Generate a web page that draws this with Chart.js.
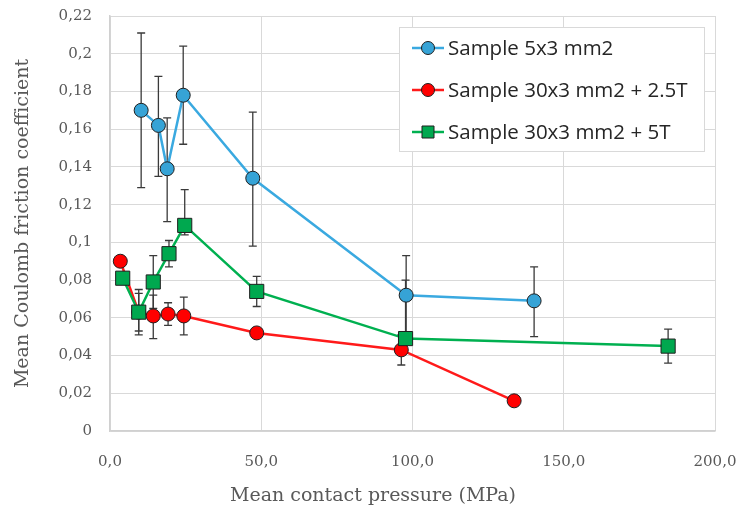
<!DOCTYPE html>
<html lang="en">
  <head>
    <meta charset="UTF-8" />
    <title>Mean Coulomb friction coefficient</title>
    <script src="https://cdn.jsdelivr.net/npm/chart.js"></script>
    <style>
      html, body { margin: 0; padding: 0; background: #fff; }
      #wrap { width: 740px; height: 509px; position: relative; }
    </style>
  </head>
  <body>
    <div id="wrap"><canvas id="chart"></canvas></div>
    <script>
      // series data
      const seriesLabels = ["Sample 5x3 mm2", "Sample 30x3 mm2 + 2.5T", "Sample 30x3 mm2 + 5T"];

      const blueX = [10.3, 16.0, 18.9, 24.2, 47.2, 97.9, 140.2];
      const blueY = [0.170, 0.162, 0.139, 0.178, 0.134, 0.072, 0.069];
      const blueErrUp = [0.041, 0.026, 0.027, 0.026, 0.035, 0.021, 0.018];
      const blueErrDown = [0.041, 0.027, 0.028, 0.026, 0.036, 0.021, 0.019];

      const redX = [3.4, 9.5, 14.3, 19.2, 24.4, 48.5, 96.3, 133.6];
      const redY = [0.090, 0.063, 0.061, 0.062, 0.061, 0.052, 0.043, 0.016];
      const redErrUp = [0, 0.010, 0.011, 0.006, 0.010, 0, 0.008, 0];
      const redErrDown = [0, 0.010, 0.012, 0.006, 0.010, 0, 0.008, 0];

      const greenX = [4.2, 9.5, 14.3, 19.5, 24.7, 48.5, 97.7, 184.5];
      const greenY = [0.081, 0.063, 0.079, 0.094, 0.109, 0.074, 0.049, 0.045];
      const greenErrUp = [0, 0.012, 0.014, 0.007, 0.019, 0.008, 0.031, 0.009];
      const greenErrDown = [0, 0.012, 0.014, 0.007, 0.005, 0.008, 0, 0.009];

      const xTicks = [0, 50, 100, 150, 200];
      const yTicks = [0, 0.02, 0.04, 0.06, 0.08, 0.1, 0.12, 0.14, 0.16, 0.18, 0.2, 0.22];
      const xTitle = "Mean contact pressure (MPa)";
      const yTitle = "Mean Coulomb friction coefficient";

      const toPoints = (xs, ys) => xs.map((x, i) => ({ x: x, y: ys[i] }));

      const serif = "'DejaVu Serif', 'Liberation Serif', serif";
      const sans = "'Open Sans', 'Noto Sans', sans-serif";

      // error bars, drawn under the markers
      const errorBars = {
        id: "errorBars",
        beforeDatasetsDraw(chart) {
          const { ctx, scales } = chart;
          ctx.save();
          ctx.strokeStyle = "#3a3a3a";
          ctx.lineWidth = 1.3;
          chart.data.datasets.forEach(ds => {
            ds.data.forEach((p, i) => {
              const up = ds.errUp[i], down = ds.errDown[i];
              if (!up && !down) return;
              const px = scales.x.getPixelForValue(p.x);
              const top = scales.y.getPixelForValue(p.y + up);
              const bot = scales.y.getPixelForValue(p.y - down);
              ctx.beginPath();
              ctx.moveTo(px, top); ctx.lineTo(px, bot);
              if (up) { ctx.moveTo(px - 4, top); ctx.lineTo(px + 4, top); }
              if (down) { ctx.moveTo(px - 4, bot); ctx.lineTo(px + 4, bot); }
              ctx.stroke();
            });
          });
          ctx.restore();
        }
      };

      // legend box inside the plot (top right) and the x axis title
      const boxLegend = {
        id: "boxLegend",
        afterDraw(chart) {
          const { ctx } = chart;
          const bx = 399, by = 27, bw = 305, bh = 124;
          ctx.save();
          ctx.fillStyle = "#fff";
          ctx.fillRect(bx, by, bw, bh);
          ctx.strokeStyle = "#d9d9d9";
          ctx.lineWidth = 1;
          ctx.strokeRect(bx + 0.5, by + 0.5, bw, bh);
          const dsByLabel = seriesLabels.map(l => chart.data.datasets.find(d => d.label === l));
          dsByLabel.forEach((ds, i) => {
            const y = 48 + i * 42;
            ctx.strokeStyle = ds.borderColor;
            ctx.lineWidth = 2.5;
            ctx.beginPath(); ctx.moveTo(412, y); ctx.lineTo(444, y); ctx.stroke();
            ctx.fillStyle = ds.pointBackgroundColor;
            ctx.strokeStyle = "#1f1f1f";
            ctx.lineWidth = 1;
            ctx.beginPath();
            if (ds.pointStyle === "rect") {
              ctx.rect(422, y - 6, 12, 12);
            } else {
              ctx.arc(428, y, 6.5, 0, Math.PI * 2);
            }
            ctx.fill(); ctx.stroke();
            ctx.fillStyle = "#262626";
            ctx.font = "20.5px " + sans;
            ctx.textBaseline = "middle";
            ctx.textAlign = "left";
            ctx.fillText(ds.label, 448, y + 1);
          });

          ctx.fillStyle = "#595959";
          ctx.font = "19px " + serif;
          ctx.textAlign = "center";
          ctx.textBaseline = "middle";
          ctx.fillText(xTitle, 373, 496);
          ctx.restore();
        }
      };

      new Chart(document.getElementById("chart"), {
        type: "scatter",
        data: {
          datasets: [
            {
              label: seriesLabels[0],
              data: toPoints(blueX, blueY),
              errUp: blueErrUp, errDown: blueErrDown,
              showLine: true,
              borderColor: "#3aa9e0",
              borderWidth: 2.5,
              pointBackgroundColor: "#36a3d6",
              pointBorderColor: "#1f1f1f",
              pointBorderWidth: 1,
              pointRadius: 7,
              pointStyle: "circle",
              order: 2
            },
            {
              label: seriesLabels[1],
              data: toPoints(redX, redY),
              errUp: redErrUp, errDown: redErrDown,
              showLine: true,
              borderColor: "#ff1a1a",
              borderWidth: 2.5,
              pointBackgroundColor: "#ff0000",
              pointBorderColor: "#1f1f1f",
              pointBorderWidth: 1,
              pointRadius: 7,
              pointStyle: "circle",
              order: 1
            },
            {
              label: seriesLabels[2],
              data: toPoints(greenX, greenY),
              errUp: greenErrUp, errDown: greenErrDown,
              showLine: true,
              borderColor: "#00b050",
              borderWidth: 2.5,
              pointBackgroundColor: "#00a84f",
              pointBorderColor: "#1f1f1f",
              pointBorderWidth: 1,
              pointRadius: 10,
              pointStyle: "rect",
              order: 0
            }
          ]
        },
        options: {
          responsive: true,
          maintainAspectRatio: false,
          animation: false,
          layout: { padding: { top: 16, right: 25, left: 0, bottom: 0 } },
          plugins: {
            legend: { display: false },
            tooltip: { enabled: false }
          },
          scales: {
            x: {
              type: "linear",
              min: 0, max: 200,
              afterBuildTicks: s => { s.ticks = xTicks.map(v => ({ value: v })); },
              afterFit: s => { s.height = 78; s.paddingLeft = 0; s.paddingRight = 0; },
              grid: { color: "#d9d9d9", lineWidth: 1, drawTicks: false },
              border: { color: "#d0d0d0", width: 1.5 },
              ticks: {
                color: "#595959",
                font: { family: serif, size: 15 },
                padding: 22,
                callback: v => v.toFixed(1).replace(".", ",")
              },
              title: { display: false }
            },
            y: {
              min: 0, max: 0.22,
              afterBuildTicks: s => { s.ticks = yTicks.map(v => ({ value: v })); },
              afterFit: s => { s.width = 110; s.paddingTop = 0; s.paddingBottom = 0; },
              grid: { color: "#d9d9d9", lineWidth: 1, drawTicks: false },
              border: { color: "#d0d0d0", width: 1.5 },
              ticks: {
                color: "#595959",
                font: { family: serif, size: 15 },
                padding: 18,
                callback: v => String(+v.toFixed(2)).replace(".", ",")
              },
              title: {
                display: true,
                text: yTitle,
                color: "#595959",
                font: { family: serif, size: 19 },
                padding: { top: 12, bottom: 4 }
              }
            }
          }
        },
        plugins: [errorBars, boxLegend]
      });
    </script>
  </body>
</html>
